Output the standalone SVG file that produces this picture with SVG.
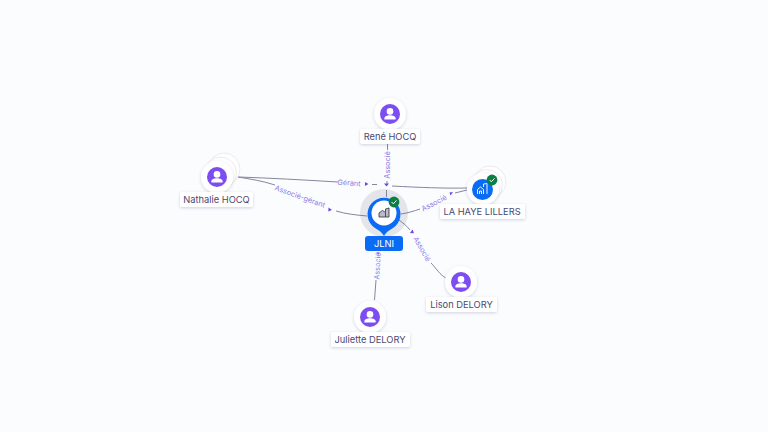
<svg xmlns="http://www.w3.org/2000/svg" width="768" height="432" viewBox="0 0 768 432">
<defs>
<filter id="sh" x="-30%" y="-30%" width="160%" height="170%"><feDropShadow dx="0" dy="1" stdDeviation="1.500" flood-color="#4a4f80" flood-opacity="0.25"/></filter>
<g id="person"><circle r="10" fill="#7c4df0"/><circle cy="-2.600" r="3.300" fill="#fff"/><path d="M-5.600 5.400v-1.200c0-2 2.600-3 5.600-3s5.600 1 5.600 3v1.200z" fill="#fff"/></g>
<g id="check"><circle r="5.400" fill="#0b8043"/><path d="M-2.400 0l1.700 1.800 3.200-3.400" fill="none" stroke="#fff" stroke-width="1"/></g>
</defs>
<style>
.bg{fill:#fbfcfe}
.w{fill:#fff;filter:url(#sh)}
.b{fill:#fff;stroke:#e6e6ea;stroke-width:.8}
.lb{fill:#fff;filter:url(#sh)}
.t{font-family:"Inter","Liberation Sans",sans-serif;font-size:9.300px;fill:#474a75;text-anchor:middle}
.e{font-family:"Inter","Liberation Sans",sans-serif;font-size:7.300px;fill:#8a7ce4;text-anchor:middle}
.c{fill:none;stroke:#84879f;stroke-width:1}
.a{fill:#7045e8}
</style>
<rect class="bg" width="768" height="432"/>
<g id="connectors">
<path class="c" d="M387.500 143V150M387 181V184M386.500 190V197"/>
<path class="c" d="M238 177C270 178 305 180 338 182M372 184.500H377M392 186C420 187.500 445 188.500 467 188"/>
<path class="c" d="M238 177C250 179 263 181 275 185M336 211C346 214 356 215 367 216"/>
<path class="c" d="M401 214C408 213 414 211 420 209M455 193L467 190"/>
<path class="c" d="M399 220C403 223 407 226 410 230M431 263C436 268 440 275 446 278"/>
<path class="c" d="M374.500 300L376 280"/>
<path class="a" d="M365 182l3.500 2-3.500 2zM384 183.500l2.500 3 2.500-3zM328.500 207.500l3.500 2.500-3.700 1.500zM449.500 192.500l3.500-.5-2.500 3.500zM410 233l2.500-3.500 1.500 3.800zM376 252.500l4 0-2 2z"/>
<text class="e" dy="2.500" transform="translate(349 183) rotate(4)">Gérant</text>
<text class="e" dy="2.500" transform="translate(300 196.500) rotate(20)">Associé-gérant</text>
<text class="e" dy="2.500" transform="translate(387.500 165) rotate(-90)">Associé</text>
<text class="e" dy="2.500" transform="translate(434 203) rotate(-27)">Associé</text>
<text class="e" dy="2.500" transform="translate(422 249) rotate(60)">Associé</text>
<text class="e" dy="2.500" transform="translate(377.500 266) rotate(-87)">Associé</text>
</g>
<g id="node-jlni">
<circle cx="384" cy="213" r="24" fill="#6e7080" fill-opacity=".16"/>
<path d="M384 236C381.500 231.500 378 230 375 228A16.500 16.500 0 1 1 393 228C390 230 386.500 231.500 384 236z" fill="#0a6cf5"/>
<circle cx="384" cy="213" r="12.500" fill="#fff"/>
<path d="M379 217v-4l3.500-2.500 3 2v4.500zM385.500 212v-3l3.500-1v9h-3.500" fill="#b9bbc8" stroke="#3e4058" stroke-width=".9"/>
<use href="#check" x="394" y="202"/>
<rect x="365" y="236" width="38" height="15" rx="3" fill="#0a6cf5"/>
<text class="t" x="384" y="247" style="fill:#fff">JLNI</text>
</g>
<g id="node-rene">
<circle class="w" cx="390" cy="114" r="16"/>
<use href="#person" x="390" y="114"/>
<rect class="lb" x="360" y="129" width="60" height="15" rx="2.500"/>
<text class="t" x="390" y="140">René HOCQ</text>
</g>
<g id="node-nathalie">
<circle class="b" cx="224" cy="169" r="16"/>
<circle class="b" cx="220.500" cy="173" r="16"/>
<circle class="w" cx="217" cy="177" r="16"/>
<use href="#person" x="217" y="177"/>
<rect class="lb" x="180" y="192" width="73" height="15" rx="2.500"/>
<text class="t" x="216.500" y="203">Nathalie HOCQ</text>
</g>
<g id="node-lahaye">
<circle class="b" cx="490" cy="182" r="16"/>
<circle class="b" cx="486.500" cy="185.500" r="16"/>
<circle class="w" cx="483" cy="189" r="16"/>
<circle cx="482.500" cy="189.500" r="10.500" fill="#0a6cf5"/>
<path d="M477.500 194v-4.500l3-2.500 3 2.500v4.500M483.500 187v-3l3.500-.5v10.500M479.500 194v-3h2v3" fill="none" stroke="#fff" stroke-width=".9"/>
<use href="#check" x="492" y="180"/>
<rect class="lb" x="440" y="204" width="85" height="15" rx="2.500"/>
<text class="t" x="482" y="215">LA HAYE LILLERS</text>
</g>
<g id="node-lison">
<circle class="w" cx="461" cy="282" r="16"/>
<use href="#person" x="461" y="282"/>
<rect class="lb" x="426" y="297" width="71" height="15" rx="2.500"/>
<text class="t" x="461.500" y="308">Lison DELORY</text>
</g>
<g id="node-juliette">
<circle class="w" cx="370" cy="317" r="16"/>
<use href="#person" x="370" y="317"/>
<rect class="lb" x="331" y="332" width="79" height="15" rx="2.500"/>
<text class="t" x="370" y="343">Juliette DELORY</text>
</g>
</svg>
